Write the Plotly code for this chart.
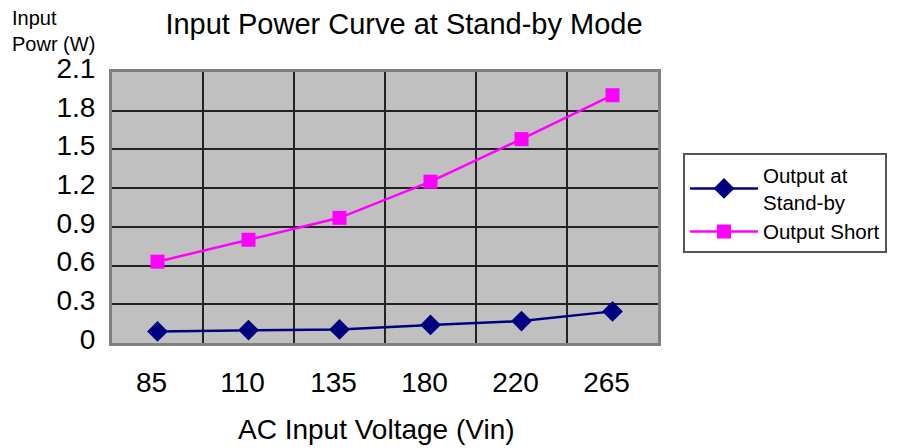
import plotly.graph_objects as go

# ---- data ----
voltages = ["85", "110", "135", "180", "220", "265"]
standby_power = [0.09, 0.10, 0.105, 0.14, 0.17, 0.245]
short_power = [0.63, 0.80, 0.97, 1.25, 1.58, 1.92]
y_tick_values = [0, 0.3, 0.6, 0.9, 1.2, 1.5, 1.8, 2.1]
y_tick_labels = ["0", "0.3", "0.6", "0.9", "1.2", "1.5", "1.8", "2.1"]

FONT = "Liberation Sans, Arial, sans-serif"

fig = go.Figure()
fig.add_trace(go.Scatter(
    x=voltages, y=standby_power, name="Output at<br>Stand-by",
    mode="lines+markers",
    line=dict(color="#000080", width=2.5),
    marker=dict(symbol="diamond", size=16, color="#000080"),
))
fig.add_trace(go.Scatter(
    x=voltages, y=short_power, name="Output Short",
    mode="lines+markers",
    line=dict(color="#FF00FF", width=2.5),
    marker=dict(symbol="square", size=14, color="#FF00FF"),
))

fig.update_layout(
    width=916, height=448,
    margin=dict(l=112, r=258, t=72, b=105),
    paper_bgcolor="white",
    plot_bgcolor="#C0C0C0",
    font=dict(family=FONT, size=28, color="black"),
    title=dict(
        text="Input Power Curve at Stand-by Mode",
        xref="container", x=404 / 916, xanchor="center",
        yref="container", y=1 - 24 / 448, yanchor="middle",
        font=dict(family=FONT, size=29, color="black"),
    ),
    legend=dict(
        x=1.0458, y=0.70, xanchor="left", yanchor="top",
        xref="paper", yref="paper",
        bgcolor="white", bordercolor="#555555", borderwidth=2,
        font=dict(family=FONT, size=20.5, color="black"),
        itemwidth=68,
    ),
    showlegend=True,
)

fig.update_xaxes(
    type="category",
    categoryorder="array", categoryarray=voltages,
    range=[-0.5, len(voltages) - 0.5],
    tickson="boundaries",
    showgrid=True, gridcolor="#222222", gridwidth=1.5,
    ticks="", ticklabelstandoff=12, ticklabelshift=-6,
    tickfont=dict(family=FONT, size=28, color="black"),
    showline=True, mirror=True, linecolor="#808080", linewidth=3,
    zeroline=False, fixedrange=True,
)
fig.update_yaxes(
    range=[0, 2.1],
    tickmode="array", tickvals=y_tick_values, ticktext=y_tick_labels,
    showgrid=True, gridcolor="#222222", gridwidth=1.5,
    ticks="", ticklabelstandoff=8, ticklabelshift=-4,
    tickfont=dict(family=FONT, size=28, color="black"),
    showline=True, mirror=True, linecolor="#808080", linewidth=3,
    zeroline=False, fixedrange=True,
)

# axis titles as text annotations
fig.add_annotation(
    text="AC Input Voltage (Vin)", showarrow=False,
    xref="paper", yref="paper", x=0.485, y=-0.32,
    xanchor="center", yanchor="middle",
    font=dict(family=FONT, size=28, color="black"),
)
fig.add_annotation(
    text="Input<br>Powr (W)", showarrow=False, align="left",
    xref="paper", yref="paper", x=-0.187, y=1.152,
    xanchor="left", yanchor="middle",
    font=dict(family=FONT, size=20, color="black"),
)

fig.write_html(
    "out.html",
    config={"displayModeBar": False},
    post_script="document.body.style.margin='0';document.body.style.overflow='hidden';",
)
